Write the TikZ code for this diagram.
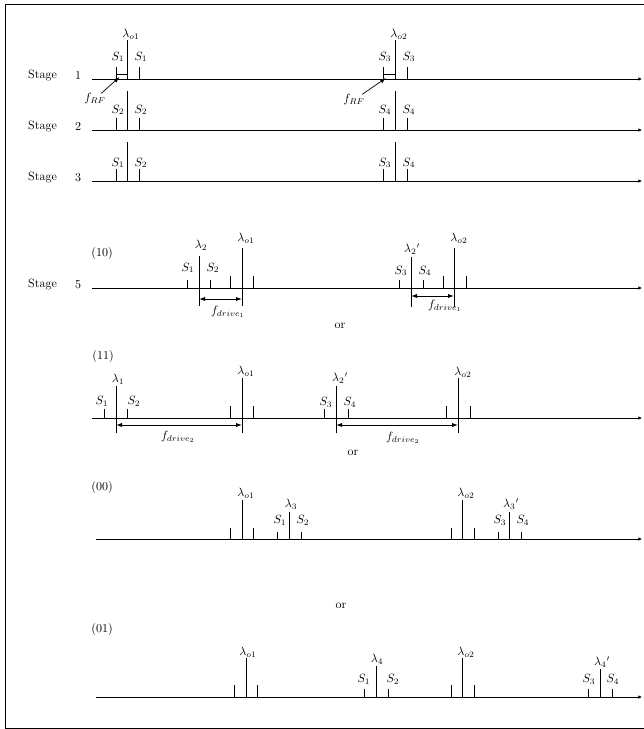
\documentclass[tikz,border=0pt]{standalone}
\usetikzlibrary{arrows.meta}
\newcommand\pk[3]{\draw[spec] (#1,#2) -- (#1,#3);}
\begin{document}
\begin{tikzpicture}[x=0.8333pt,y=-0.8333pt,
  ax/.style={line width=0.75pt,-{Latex[length=3pt,width=3pt]}},
  spec/.style={line width=0.6pt},
  lbl/.style={inner sep=0pt},
  ptr/.style={line width=0.6pt,-{Latex[length=5pt,width=3.5pt]}},
  dim/.style={line width=0.75pt,{Latex[length=5pt,width=3.5pt]}-{Latex[length=5pt,width=3.5pt]}},
  frame/.style={line width=0.8pt}]
\useasboundingbox (0,0) rectangle (643,729);
\draw[frame] (660,4) -- (5.5,4) -- (5.5,728) -- (660,728);

% ---------- Stage 1 ----------
\node[lbl] (stage1) at (42.5,76) {Stage};
\node[lbl] (num1) at (78,76) {1};
\coordinate (ax1a) at (92,79); \coordinate (ax1b) at (642,79);
\draw[ax] (ax1a) -- (ax1b);
\pk{116}{79}{67} \pk{127}{79}{40} \pk{139}{79}{67}
\pk{383}{79}{67} \pk{395}{79}{40} \pk{407}{79}{67}
\draw[spec] (116,74) -- (127,74);
\draw[spec] (383,74) -- (395,74);
\node[lbl] (l1a) at (131,34) {$\lambda_{o1}$};
\node[lbl] (l1b) at (399,34) {$\lambda_{o2}$};
\node[lbl] (s1a) at (118,57) {$S_1$};
\node[lbl] (s1b) at (141,57) {$S_1$};
\node[lbl] (s1c) at (385,57) {$S_3$};
\node[lbl] (s1d) at (409,57) {$S_3$};
\node[lbl] (frfa) at (95,99) {$f_{RF}$};
\node[lbl] (frfb) at (354,100) {$f_{RF}$};
\coordinate (frfat) at (119.5,77);
\coordinate (frfbt) at (386,78);
\draw[ptr] (frfa) -- (frfat);
\draw[ptr] (frfb) -- (frfbt);

% ---------- Stage 2 ----------
\node[lbl] (stage2) at (42.5,127) {Stage};
\node[lbl] (num2) at (78,127) {2};
\coordinate (ax2a) at (92,130); \coordinate (ax2b) at (642,130);
\draw[ax] (ax2a) -- (ax2b);
\pk{116}{130}{118} \pk{127}{130}{91} \pk{139}{130}{118}
\pk{383}{130}{118} \pk{395}{130}{91} \pk{407}{130}{118}
\node[lbl] (s2a) at (118,110) {$S_2$};
\node[lbl] (s2b) at (141,110) {$S_2$};
\node[lbl] (s2c) at (385,110) {$S_4$};
\node[lbl] (s2d) at (409,110) {$S_4$};

% ---------- Stage 3 ----------
\node[lbl] (stage3) at (42.5,178) {Stage};
\node[lbl] (num3) at (78,178) {3};
\coordinate (ax3a) at (92,181); \coordinate (ax3b) at (642,181);
\draw[ax] (ax3a) -- (ax3b);
\pk{116}{181}{169} \pk{127}{181}{142} \pk{139}{181}{169}
\pk{383}{181}{169} \pk{395}{181}{142} \pk{407}{181}{169}
\node[lbl] (s3a) at (118,163) {$S_1$};
\node[lbl] (s3b) at (141,163) {$S_2$};
\node[lbl] (s3c) at (385,163) {$S_3$};
\node[lbl] (s3d) at (409,163) {$S_4$};

% ---------- Stage 5 (10) ----------
\node[lbl] (stage5) at (42.5,285) {Stage};
\node[lbl] (num5) at (78,285) {5};
\node[lbl] (c10) at (102,254) {(10)};
\coordinate (ax5a) at (92,288); \coordinate (ax5b) at (642,288);
\draw[ax] (ax5a) -- (ax5b);
\pk{187}{288}{280} \pk{199}{306}{256} \pk{210}{288}{280}
\pk{230}{288}{276} \pk{242}{306}{248} \pk{253}{288}{276}
\coordinate (d1a) at (199,299); \coordinate (d1b) at (242,299);
\draw[dim] (d1a) -- (d1b);
\node[lbl] (l5a) at (201,245) {$\lambda_2$};
\node[lbl] (l5b) at (246,238) {$\lambda_{o1}$};
\node[lbl] (s5a) at (188,268) {$S_1$};
\node[lbl] (s5b) at (213,268) {$S_2$};
\node[lbl] (fd1a) at (228,312) {$f_{drive_1}$};
\pk{399}{288}{280} \pk{411}{307}{257} \pk{423}{288}{280}
\pk{443}{288}{276} \pk{454}{307}{248} \pk{466}{288}{276}
\coordinate (d2a) at (411,296); \coordinate (d2b) at (454,296);
\draw[dim] (d2a) -- (d2b);
\node[lbl] (l5c) at (412,249) {$\lambda_2{}'$};
\node[lbl] (l5d) at (459,238) {$\lambda_{o2}$};
\node[lbl] (s5c) at (401,271) {$S_3$};
\node[lbl] (s5d) at (425,271) {$S_4$};
\node[lbl] (fd1b) at (445,306) {$f_{drive_1}$};
\node[lbl] (or1) at (340,326) {or};

% ---------- (11) ----------
\node[lbl] (c11) at (103,356) {(11)};
\coordinate (ax6a) at (92,418); \coordinate (ax6b) at (642,418);
\draw[ax] (ax6a) -- (ax6b);
\pk{104}{418}{409} \pk{116}{433}{386} \pk{127}{418}{409}
\pk{230}{418}{406} \pk{242}{433}{378} \pk{253}{418}{406}
\coordinate (d3a) at (116,425); \coordinate (d3b) at (242,425);
\draw[dim] (d3a) -- (d3b);
\node[lbl] (l6a) at (118,379) {$\lambda_1$};
\node[lbl] (l6b) at (246,371) {$\lambda_{o1}$};
\node[lbl] (s6a) at (102,401) {$S_1$};
\node[lbl] (s6b) at (134,401) {$S_2$};
\node[lbl] (fd2a) at (178,437) {$f_{drive_2}$};
\pk{324}{418}{409} \pk{336}{433}{386} \pk{348}{418}{409}
\pk{446}{418}{406} \pk{458}{433}{378} \pk{470}{418}{406}
\coordinate (d4a) at (336,425); \coordinate (d4b) at (458,425);
\draw[dim] (d4a) -- (d4b);
\node[lbl] (l6c) at (340,378) {$\lambda_2{}'$};
\node[lbl] (l6d) at (463,372) {$\lambda_{o2}$};
\node[lbl] (s6c) at (326,402) {$S_3$};
\node[lbl] (s6d) at (350,402) {$S_4$};
\node[lbl] (fd2b) at (403,438) {$f_{drive_2}$};
\node[lbl] (or2) at (353,453) {or};

% ---------- (00) ----------
\node[lbl] (c00) at (102,487) {(00)};
\coordinate (ax7a) at (96,539); \coordinate (ax7b) at (642,539);
\draw[ax] (ax7a) -- (ax7b);
\pk{230}{539}{528} \pk{242}{539}{500} \pk{253}{539}{528}
\pk{277}{539}{532} \pk{289}{539}{512} \pk{301}{539}{532}
\node[lbl] (l7a) at (246,493) {$\lambda_{o1}$};
\node[lbl] (l7b) at (291,504) {$\lambda_3$};
\node[lbl] (s7a) at (280,520) {$S_1$};
\node[lbl] (s7b) at (303,520) {$S_2$};
\pk{451}{539}{528} \pk{462}{539}{500} \pk{474}{539}{528}
\pk{498}{539}{532} \pk{509}{539}{512} \pk{521}{539}{532}
\node[lbl] (l7c) at (466,493) {$\lambda_{o2}$};
\node[lbl] (l7d) at (511,504) {$\lambda_3{}'$};
\node[lbl] (s7c) at (500,520) {$S_3$};
\node[lbl] (s7d) at (523,520) {$S_4$};
\node[lbl] (or3) at (341,606) {or};

% ---------- (01) ----------
\node[lbl] (c01) at (102,629) {(01)};
\coordinate (ax8a) at (96,697); \coordinate (ax8b) at (642,697);
\draw[ax] (ax8a) -- (ax8b);
\pk{234}{697}{685} \pk{246}{697}{658} \pk{257}{697}{685}
\pk{364}{697}{689} \pk{376}{697}{666} \pk{388}{697}{689}
\node[lbl] (l8a) at (248,652) {$\lambda_{o1}$};
\node[lbl] (l8b) at (377,659) {$\lambda_4$};
\node[lbl] (s8a) at (364,679) {$S_1$};
\node[lbl] (s8b) at (393,679) {$S_2$};
\pk{451}{697}{685} \pk{462}{697}{658} \pk{474}{697}{685}
\pk{588}{697}{689} \pk{600}{697}{669} \pk{612}{697}{689}
\node[lbl] (l8c) at (466,652) {$\lambda_{o2}$};
\node[lbl] (l8d) at (602,662) {$\lambda_4{}'$};
\node[lbl] (s8c) at (589,679) {$S_3$};
\node[lbl] (s8d) at (613,679) {$S_4$};
\end{tikzpicture}
\end{document}
